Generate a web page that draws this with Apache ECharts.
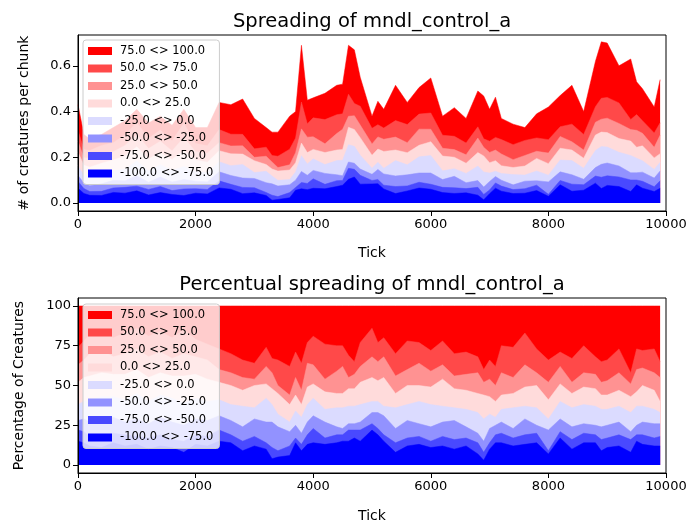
<!DOCTYPE html>
<html>
<head>
<meta charset="utf-8">
<title>Spreading of mndl_control_a</title>
<script src="https://cdn.jsdelivr.net/npm/echarts@6/dist/echarts.min.js"></script>
<style>
  html, body { margin: 0; padding: 0; background: #fff; }
  #main { width: 692px; height: 529px; }
</style>
</head>
<body>
<div id="main"></div>
<script>
// sample ticks
var ticks = [0, 100, 200, 400, 600, 800, 1000, 1200, 1400, 1600,
  1800, 2000, 2200, 2400, 2600, 2800, 3000, 3200, 3300, 3400,
  3600, 3700, 3800, 3900, 4000, 4200, 4400, 4500, 4600, 4700,
  4800, 5000, 5100, 5200, 5400, 5600, 5800, 6000, 6200, 6400,
  6600, 6800, 6900, 7000, 7100, 7200, 7400, 7600, 7800, 8000,
  8200, 8400, 8600, 8800, 8900, 9000, 9200, 9400, 9500, 9600,
  9800, 9900];

// # of creatures per chunk, all groups together (top outline of upper chart)
var total = [0.43, 0.30, 0.28, 0.30, 0.33, 0.36, 0.41, 0.35, 0.38, 0.34,
  0.41, 0.33, 0.33, 0.44, 0.43, 0.455, 0.37, 0.33, 0.31, 0.31,
  0.38, 0.40, 0.69, 0.45, 0.46, 0.48, 0.515, 0.52, 0.69, 0.67,
  0.55, 0.38, 0.445, 0.41, 0.515, 0.44, 0.505, 0.547, 0.38, 0.417,
  0.37, 0.49, 0.468, 0.41, 0.463, 0.37, 0.345, 0.33, 0.39, 0.42,
  0.47, 0.515, 0.40, 0.62, 0.705, 0.70, 0.60, 0.63, 0.53, 0.50,
  0.42, 0.54];

// percentage of creatures up to the upper edge of each group (lower chart)
var edgeM75 = [15, 14, 12, 11, 14, 12, 13, 10, 12, 11,
  8, 13, 12, 15, 14, 9, 12, 10, 4, 5,
  6, 14, 9, 13, 14, 13, 14, 15, 15, 17,
  15, 22, 19, 15, 8, 12, 13, 11, 12, 10,
  12, 7, 3, 10, 14, 14, 12, 13, 14, 7,
  17, 10, 14, 14, 9, 11, 12, 8, 15, 13,
  12, 12];
var edgeM50 = [22, 21, 18, 17, 20, 19, 18, 17, 19, 16,
  15, 19, 18, 22, 19, 15, 18, 14, 11, 9,
  12, 17, 13, 19, 23, 17, 19, 19, 22, 22,
  22, 26, 23, 19, 14, 17, 18, 15, 18, 16,
  17, 14, 8, 14, 19, 20, 17, 19, 20, 9,
  21, 16, 20, 19, 16, 17, 19, 16, 19, 19,
  17, 18];
var edgeM25 = [28, 29, 27, 28, 30, 27, 29, 26, 30, 27,
  25, 29, 28, 31, 28, 24, 29, 27, 27, 24,
  21, 25, 20, 27, 31, 27, 24, 23, 26, 26,
  27, 33, 33, 31, 23, 28, 26, 24, 27, 28,
  24, 20, 15, 23, 25, 27, 23, 29, 25, 22,
  29, 24, 26, 25, 24, 25, 27, 21, 25, 27,
  26, 26];
var edge0 = [38, 40, 41, 43, 43, 41, 45, 40, 44, 42,
  39, 42, 40, 41, 38, 37, 36, 42, 38, 32,
  27, 34, 30, 38, 42, 35, 36, 36, 37, 37,
  38, 40, 40, 37, 36, 38, 40, 38, 37, 36,
  35, 33, 29, 32, 30, 35, 36, 37, 36, 29,
  40, 36, 38, 37, 35, 35, 37, 33, 37, 37,
  35, 33];
var edge25 = [52, 55, 56, 58, 57, 57, 60, 55, 58, 56,
  56, 57, 54, 52, 50, 47, 50, 51, 48, 45,
  38, 44, 38, 49, 51, 46, 45, 45, 48, 48,
  52, 55, 53, 55, 45, 50, 50, 49, 54, 48,
  47, 45, 44, 43, 40, 44, 45, 49, 50, 41,
  51, 45, 49, 48, 44, 44, 47, 43, 46, 50,
  47, 40];
var edge50 = [63, 66, 70, 72, 68, 70, 73, 68, 71, 67,
  70, 68, 66, 60, 58, 55, 54, 62, 58, 50,
  44, 55, 47, 64, 63, 54, 59, 62, 55, 57,
  62, 68, 65, 68, 56, 60, 64, 59, 63, 56,
  57, 58, 52, 54, 50, 58, 55, 63, 58, 52,
  62, 52, 58, 57, 52, 53, 58, 51, 60, 61,
  58, 55];
var edge75 = [74, 78, 82, 84, 80, 83, 86, 81, 84, 80,
  85, 79, 76, 73, 70, 66, 64, 74, 67, 66,
  62, 71, 64, 77, 81, 76, 75, 75, 69, 65,
  77, 86, 77, 80, 70, 78, 77, 72, 78, 70,
  71, 68, 60, 66, 62, 75, 74, 83, 73, 66,
  71, 67, 75, 68, 65, 66, 73, 58, 73, 72,
  73, 65];

var groups = ['-100.0 <> -75.0', '-75.0 <> -50.0', '-50.0 <> -25.0', '-25.0 <> 0.0',
  '0.0 <> 25.0', '25.0 <> 50.0', '50.0 <> 75.0', '75.0 <> 100.0'];
var colors = ['#0000ff', '#4949ff', '#9292ff', '#dbdbff',
  '#ffdbdb', '#ff9292', '#ff4949', '#ff0000'];

var edges = [edgeM75, edgeM50, edgeM25, edge0, edge25, edge50, edge75];

// cumulative % at the top of group k
function upTo(k, i) {
    return k === 7 ? 100 : edges[k][i];
}

var font = 'DejaVu Sans';
var series = [];
// draw the highest layer first, lower layers are painted over it
for (var k = 7; k >= 0; k--) {
    var common = {
        name: groups[k],
        type: 'line',
        symbol: 'none',
        color: colors[k],
        itemStyle: { color: colors[k] },
        lineStyle: { width: 0.5, color: colors[k] },
        areaStyle: { color: colors[k], opacity: 1 },
        emphasis: { disabled: true },
        silent: true
    };
    series.push(Object.assign({}, common, {
        xAxisIndex: 0, yAxisIndex: 0,
        data: ticks.map(function (t, i) { return [t, total[i] * upTo(k, i) / 100]; })
    }));
    series.push(Object.assign({}, common, {
        xAxisIndex: 1, yAxisIndex: 1,
        data: ticks.map(function (t, i) { return [t, upTo(k, i)]; })
    }));
}

function xAxisOf(grid, gap) {
    return {
        type: 'value', gridIndex: grid, min: 0, max: 10000, interval: 2000, z: 10,
        name: 'Tick', nameLocation: 'middle', nameGap: gap,
        nameTextStyle: { fontSize: 14, color: '#000', fontFamily: font },
        axisLine: { show: true, onZero: false, lineStyle: { color: '#000', width: 1 } },
        axisTick: { show: true, length: 5, lineStyle: { color: '#000' } },
        axisLabel: { color: '#000', fontSize: 13, margin: 7, fontFamily: font,
            formatter: function (v) { return String(v); } },
        splitLine: { show: false }
    };
}
function yAxisOf(grid, min, max, vals, digits, name, gap) {
    return {
        type: 'value', gridIndex: grid, min: min, max: max, z: 10,
        name: name, nameLocation: 'middle', nameGap: gap,
        nameTextStyle: { fontSize: 14, color: '#000', fontFamily: font },
        axisLine: { show: true, onZero: false, lineStyle: { color: '#000', width: 1 } },
        axisTick: { show: true, length: 5, customValues: vals, lineStyle: { color: '#000' } },
        axisLabel: { color: '#000', fontSize: 13, margin: 7, fontFamily: font,
            customValues: vals,
            formatter: function (v) { return v.toFixed(digits); } },
        splitLine: { show: false }
    };
}
function legendAt(top) {
    return {
        data: groups.slice().reverse(), orient: 'vertical', left: 83, top: top,
        icon: 'rect', itemWidth: 24, itemHeight: 8, itemGap: 5.5,
        padding: [5, 6, 5, 5], backgroundColor: 'rgba(255,255,255,0.8)',
        borderColor: '#cccccc', borderWidth: 1, borderRadius: 3,
        selectedMode: false,
        textStyle: { fontSize: 11.5, lineHeight: 12, color: '#000', fontFamily: font, padding: [0, 0, 0, 3] }
    };
}
function titleAt(text, top) {
    return {
        text: text, left: 372, top: top, textAlign: 'center', padding: 0,
        textStyle: { fontSize: 19.5, fontWeight: 'normal', color: '#000', fontFamily: font }
    };
}

var myChart = echarts.init(document.getElementById('main'), null, { renderer: 'canvas' });
myChart.setOption({
    animation: false,
    title: [
        titleAt('Spreading of mndl_control_a', 12),
        titleAt('Percentual spreading of mndl_control_a', 275)
    ],
    legend: [legendAt(40), legendAt(304)],
    grid: [
        { left: 78, right: 26, top: 35, height: 176, show: true, borderColor: '#000', borderWidth: 1 },
        { left: 78, right: 26, top: 298, height: 175, show: true, borderColor: '#000', borderWidth: 1 }
    ],
    xAxis: [xAxisOf(0, 35), xAxisOf(1, 36)],
    yAxis: [
        yAxisOf(0, -0.035, 0.735, [0, 0.2, 0.4, 0.6], 1, '# of creatures per chunk', 47),
        yAxisOf(1, -5, 105, [0, 25, 50, 75, 100], 0, 'Percentage of Creatures', 52)
    ],
    series: series
});
</script>
</body>
</html>
